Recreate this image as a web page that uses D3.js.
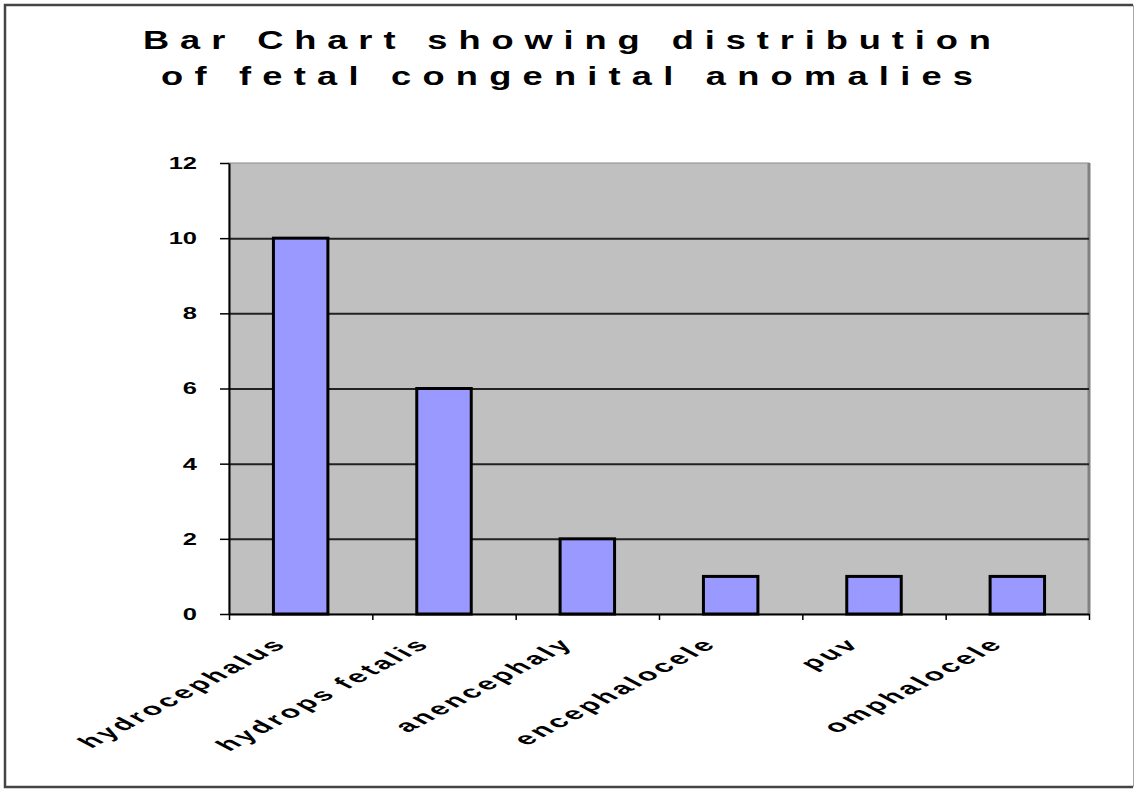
<!DOCTYPE html>
<html>
  <head>
    <meta charset="utf-8">
    <style>
      body { margin: 0; background: #fff; }
      text { font-family: "Liberation Sans", Arial, sans-serif; font-weight: bold; fill: #000; }
    </style>
    <script src="https://d3js.org/d3.v7.min.js"></script>
    <title>fetal congenital anomalies</title>
  </head>
  <body>
    <div id="chart"></div>
    <script>
    // data
    const categories = ["hydrocephalus", "hydrops fetalis", "anencephaly", "encephalocele", "puv", "omphalocele"]
    const counts = [10, 6, 2, 1, 1, 1]
    const yTicks = [0, 2, 4, 6, 8, 10, 12]
    const titleLines = ["Bar Chart showing distribution", "of fetal congenital anomalies"]

    const W = 1135, H = 789
    // plot area
    const pLeft = 229, pRight = 1089, pTop = 163, pBottom = 614

    const svg = d3.select("#chart").append("svg")
      .attr("width", W).attr("height", H)

    // outer frame: dark on left/top/bottom, thin light line on the right
    svg.append("path")
      .attr("d", "M1133,5 H5 V787 H1133")
      .attr("fill", "none").attr("stroke", "#444").attr("stroke-width", 2.5)
    svg.append("line")
      .attr("x1", 1133.5).attr("x2", 1133.5).attr("y1", 5).attr("y2", 787)
      .attr("stroke", "#aaa").attr("stroke-width", 1)

    // title, glyphs widened like the original
    const titleWidths = [848, 812]
    const tScale = 1.45
    titleLines.forEach(function(t, i) {
      svg.append("g")
        .attr("transform", "translate(567," + (49 + i * 36) + ") scale(" + tScale + ",1)")
        .append("text")
          .attr("text-anchor", "middle")
          .attr("font-size", 25)
          .attr("textLength", titleWidths[i] / tScale)
          .attr("lengthAdjust", "spacing")
          .text(t)
    })

    const y = d3.scaleLinear().domain([0, 12]).range([pBottom, pTop])
    const x = d3.scaleBand().domain(categories).range([pLeft, pRight])
      .paddingInner(0.62).paddingOuter(0.31)
    const xb = d3.scaleLinear().domain([0, categories.length]).range([pLeft, pRight])

    // grey plot background
    svg.append("rect")
      .attr("x", pLeft).attr("y", pTop).attr("width", pRight - pLeft).attr("height", pBottom - pTop)
      .attr("fill", "#c0c0c0").attr("stroke", "#8a8a8a").attr("stroke-width", 1)
    svg.append("line")
      .attr("x1", pRight).attr("x2", pRight).attr("y1", pTop).attr("y2", pBottom)
      .attr("stroke", "#808080").attr("stroke-width", 3)

    // gridlines
    svg.append("g")
      .attr("transform", "translate(" + pLeft + ",0)")
      .call(d3.axisLeft(y).tickValues(yTicks.filter(d => d > 0 && d < 12)).tickSize(-(pRight - pLeft)).tickFormat(""))
      .call(g => g.select(".domain").remove())
      .selectAll("line").attr("stroke", "#222").attr("stroke-width", 2)

    // bars
    svg.selectAll("rect.bar")
      .data(counts).enter().append("rect")
      .attr("class", "bar")
      .attr("x", (d, i) => x(categories[i]))
      .attr("width", x.bandwidth())
      .attr("y", d => y(d))
      .attr("height", d => y(0) - y(d))
      .attr("fill", "#9999ff")
      .attr("stroke", "#000")
      .attr("stroke-width", 3)

    // y axis
    const ya = svg.append("g")
      .attr("transform", "translate(" + pLeft + ",0)")
      .call(d3.axisLeft(y).tickValues(yTicks).tickSize(9).tickSizeOuter(0))
    ya.select(".domain").attr("stroke", "#000").attr("stroke-width", 2)
    ya.selectAll("line").attr("stroke", "#000").attr("stroke-width", 1.5)
    ya.selectAll("text")
      .attr("x", 0)
      .attr("font-size", 17)
      .attr("font-family", "Liberation Sans, Arial, sans-serif")
      .attr("transform", "translate(-32,0) scale(1.5,1)")

    // x axis line with ticks on category boundaries
    const xa = svg.append("g")
      .attr("transform", "translate(0," + pBottom + ")")
      .call(d3.axisBottom(xb).ticks(categories.length).tickSize(6).tickSizeOuter(0).tickFormat(""))
    xa.select(".domain").attr("stroke", "#000").attr("stroke-width", 2)
    xa.selectAll("line").attr("stroke", "#000").attr("stroke-width", 1.5)

    // category labels, slanted the way the squashed original shows them
    const xl = svg.append("g")
      .attr("transform", "translate(0," + pBottom + ")")
      .call(d3.axisBottom(x).tickSize(0))
    xl.select(".domain").remove()
    xl.selectAll("text")
      .attr("x", 0).attr("y", 0).attr("dy", 0)
      .attr("text-anchor", "end")
      .attr("font-size", 17)
      .attr("letter-spacing", 2)
      .attr("font-family", "Liberation Sans, Arial, sans-serif")
      .attr("transform", "translate(-12,31) scale(1.9,1) rotate(-45)")
    </script>
  </body>
</html>
